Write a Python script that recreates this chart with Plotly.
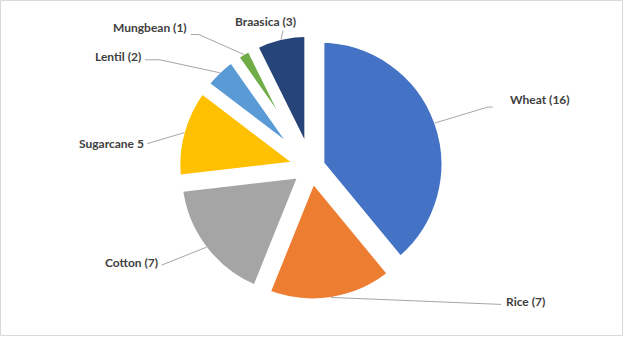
import math
import plotly.graph_objects as go

# ---- data ----
crops = ["Wheat", "Rice", "Cotton", "Sugarcane", "Lentil", "Mungbean", "Braasica"]
counts = [16, 7, 7, 5, 2, 1, 3]
label_texts = ["Wheat (16)", "Rice (7)", "Cotton (7)", "Sugarcane 5", "Lentil (2)", "Mungbean (1)", "Braasica (3)"]

# ---- styles ----
colors = ["#4472C4", "#ED7D31", "#A5A5A5", "#FFC000", "#5B9BD5", "#70AD47", "#264478"]
W, H = 624, 337
CX, CY, R = 311.0, 167.5, 126.0      # pie centre / radius in pixels
PULL = 0.075
BORDER = 9
LINE_INSET = 4
# leader-line geometry: offsets (px) from the slice anchor point
# (elbow points list, text anchor offset, text x-anchor)
label_layout = {
    "Wheat":     ([(53, -16), (58, -16)], (73, -24), "left"),
    "Rice":      ([(170, 7)], (173, 4), "left"),
    "Cotton":    ([(-45, 18)], (-46, 15), "right"),
    "Sugarcane": ([(-37, 11)], (-38, 11), "right"),
    "Lentil":    ([(-60, -13), (-75, -13)], (-77, -16), "right"),
    "Mungbean":  ([(-45, -20), (-53, -20)], (-55, -27), "right"),
    "Braasica":  ([(2, -9)], (-16, -18), "center"),
}

def px(x):
    return x / W

def py(y):
    return 1 - y / H

half = R * (1 + PULL)
domain_x = [px(CX - half), px(CX + half)]
domain_y = [py(CY + half), py(CY - half)]

fig = go.Figure(go.Pie(
    labels=crops,
    values=counts,
    sort=False,
    direction="clockwise",
    rotation=0,
    pull=[PULL] * len(counts),
    marker=dict(colors=colors, line=dict(color="white", width=BORDER)),
    textinfo="none",
    hoverinfo="label+value",
    showlegend=False,
    domain=dict(x=domain_x, y=domain_y),
))

total = sum(counts)
cum = 0
shapes = []
annotations = []
for name, v, txt in zip(crops, counts, label_texts):
    ang = math.radians(360 * (cum + v / 2) / total)
    cum += v
    ux, uy = math.sin(ang), -math.cos(ang)
    dist = half - LINE_INSET
    ax, ay = CX + dist * ux, CY + dist * uy
    pts, toff, xa = label_layout[name]
    path = "M {} {}".format(px(ax), py(ay))
    for (dx, dy) in pts:
        path += " L {} {}".format(px(ax + dx), py(ay + dy))
    shapes.append(dict(type="path", path=path, xref="paper", yref="paper",
                       line=dict(color="#A6A6A6", width=1)))
    annotations.append(dict(
        x=px(ax + toff[0]), y=py(ay + toff[1]), xref="paper", yref="paper",
        text="<b>" + txt + "</b>", showarrow=False,
        xanchor=xa, yanchor="middle",
        font=dict(family="Lato", size=12, color="#404040"),
    ))

# chart-area border
shapes.append(dict(type="rect", xref="paper", yref="paper",
                   x0=px(0.5), x1=px(W - 1.5), y0=py(H - 1.5), y1=py(0.5),
                   line=dict(color="#D9D9D9", width=1)))

fig.update_layout(
    width=W, height=H,
    margin=dict(l=0, r=0, t=0, b=0),
    paper_bgcolor="white",
    plot_bgcolor="white",
    shapes=shapes,
    annotations=annotations,
)

fig.write_html("out.html")
